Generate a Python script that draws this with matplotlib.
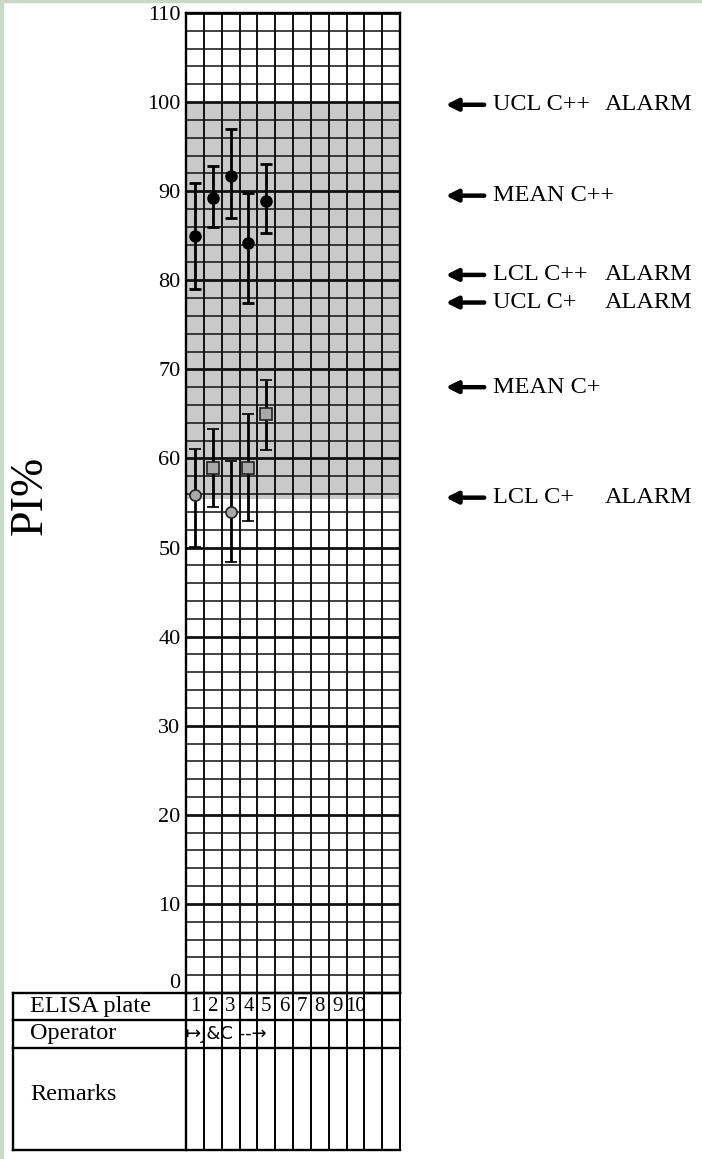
import numpy as np
import matplotlib.pyplot as plt
from matplotlib.patches import Rectangle

plt.rcParams['font.family'] = ['Liberation Serif', 'DejaVu Serif']

# ELISA plate numbers and the two control sera (C++ strong, C+ weak)
plates = [1, 2, 3, 4, 5]
cpp_mean = [85.0, 89.2, 91.7, 84.2, 88.9]
cpp_hi = [90.9, 92.8, 97.0, 89.8, 93.0]
cpp_lo = [79.0, 86.0, 87.0, 77.5, 85.3]
cp_mean = [55.9, 58.9, 54.0, 58.9, 65.0]
cp_hi = [61.1, 63.3, 59.7, 65.0, 68.8]
cp_lo = [50.1, 54.6, 48.4, 53.0, 61.0]
cp_markers = ['o', 's', 'o', 's', 's']

# control limits marked on the right
limit_labels = ['UCL C++', 'MEAN C++', 'LCL C++', 'UCL C+', 'MEAN C+', 'LCL C+']
limit_values = [99.7, 89.5, 80.6, 77.5, 68.0, 55.6]
limit_alarm = [True, False, True, True, False, True]
shade_lo, shade_hi = 55.5, 100

n_cols = 12
col_labels = ['1', '2', '3', '4', '5', '6', '7', '8', '9', '10']
operator_text = '↦J&C --→'
row_labels = ['ELISA plate', 'Operator', 'Remarks']
row_heights = [27, 28, 102]

W, H = 702, 1159
fig = plt.figure(figsize=(W / 100, H / 100), dpi=100)

# thin green frame of the scanned image
fig.patches.append(Rectangle((0, 0), 2.5 / W, 1, transform=fig.transFigure, color='#c9d9c9'))
fig.patches.append(Rectangle((0, 1 - 2 / H), 1, 2 / H, transform=fig.transFigure, color='#c9d9c9'))

gx0, gx1 = 186, 400
gy_top, gy0 = 13, 993
ax = fig.add_axes([gx0 / W, 1 - gy0 / H, (gx1 - gx0) / W, (gy0 - gy_top) / H])
ax.set_xlim(0.5, n_cols + 0.5)
ax.set_ylim(0, 110)

ax.axhspan(shade_lo, shade_hi, color='#c9c9c9', zorder=0, lw=0)

for y in range(0, 111, 2):
    ax.axhline(y, color='#111111', lw=2.0 if y % 10 == 0 else 1.1, zorder=1)
for x in np.arange(0.5, n_cols + 1, 1):
    ax.axvline(x, color='#111111', lw=1.4, zorder=1)

ax.errorbar(plates, cpp_mean, yerr=[np.subtract(cpp_mean, cpp_lo), np.subtract(cpp_hi, cpp_mean)],
            fmt='o', color='black', ms=8, elinewidth=2.0, capsize=4, capthick=2.0, zorder=3)
for x, m, lo, hi, mk in zip(plates, cp_mean, cp_lo, cp_hi, cp_markers):
    ax.errorbar(x, m, yerr=[[m - lo], [hi - m]], fmt=mk, color='black', mfc='#a8a8a8', mec='#222222',
                ms=8, mew=1.2, elinewidth=2.0, capsize=4, capthick=2.0, zorder=3)

ax.set_yticks(range(0, 111, 10))
ax.set_yticklabels([str(v) for v in range(0, 111, 10)], fontsize=16)
ax.tick_params(axis='y', length=0, pad=4)
ax.get_yticklabels()[0].set_va('bottom')
ax.set_xticks([])
for s in ax.spines.values():
    s.set_linewidth(1.7)

fig.text(30 / W, 1 - 495 / H, 'PI%', rotation=90, fontsize=33, ha='center', va='center')

trans = ax.get_yaxis_transform()
ax_px = (gx1 - gx0)
for lab, val, alarm in zip(limit_labels, limit_values, limit_alarm):
    ax.annotate('', xy=((443 - gx0) / ax_px, val), xytext=((487 - gx0) / ax_px, val),
                xycoords=trans, textcoords=trans, annotation_clip=False,
                arrowprops=dict(arrowstyle='-|>,head_length=0.7,head_width=0.35', lw=3.2, color='black'))
    ax.text((493 - gx0) / ax_px, val, lab, transform=trans, fontsize=17.5, va='center', ha='left')
    if alarm:
        ax.text((605 - gx0) / ax_px, val, 'ALARM', transform=trans, fontsize=17.5, va='center', ha='left')

# bottom record table
tx0, ty_bot = 13, 1150
col_w = (gx1 - gx0) / n_cols
left_cols = (gx0 - tx0) / col_w
tab = fig.add_axes([tx0 / W, 1 - ty_bot / H, (gx1 - tx0) / W, (ty_bot - gy0) / H])
tab.set_xlim(0.5 - left_cols, n_cols + 0.5)
tab.set_ylim(0, sum(row_heights))
tab.axis('off')

tops = np.cumsum([0] + row_heights)
ys = sum(row_heights) - tops
for y in ys:
    tab.plot([0.5 - left_cols, n_cols + 0.5], [y, y], color='black', lw=1.7, clip_on=False)
tab.plot([0.5 - left_cols] * 2, [0, sum(row_heights)], color='black', lw=1.7, clip_on=False)
for x in np.arange(0.5, n_cols + 1, 1):
    tab.plot([x, x], [0, sum(row_heights)], color='black', lw=1.4 if x > 0.5 else 1.7, clip_on=False)

for lab, y0, y1 in zip(row_labels, ys[:-1], ys[1:]):
    tab.text(0.5 - left_cols + 0.95, (y0 + y1) / 2 + (0 if lab != 'Remarks' else 5), lab,
             fontsize=17.5, va='center', ha='left')

row1_mid = (ys[0] + ys[1]) / 2
for i, lab in enumerate(col_labels):
    tab.text(i + 1, row1_mid, lab, fontsize=15, va='center', ha='center')
row2_mid = (ys[1] + ys[2]) / 2
tab.text(0.5, row2_mid, operator_text, fontsize=13, va='center', ha='left',
         family=['DejaVu Sans'])

fig.savefig('out.png', dpi=100)
